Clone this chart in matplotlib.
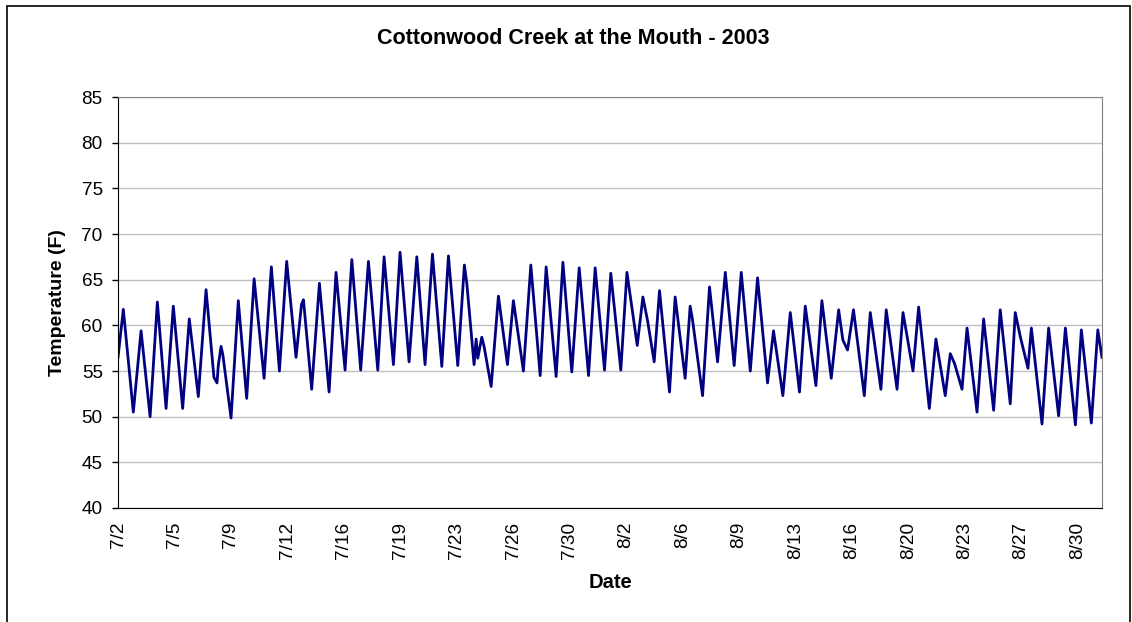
import numpy as np
import pandas as pd
import matplotlib
matplotlib.use('Agg')
import matplotlib.pyplot as plt
from matplotlib.patches import Rectangle

plt.rcParams['font.family'] = ['Liberation Sans', 'DejaVu Sans']

# turning points of the hourly record (days after 7/2 00:00, deg F)
t_day = [0.00, 0.33, 0.95, 1.43, 1.99, 2.44, 2.98, 3.43, 4.01, 4.42, 4.98, 5.46, 5.95, 6.14,
         6.22, 6.39, 6.50, 7.01, 7.46, 7.98, 8.44, 9.06, 9.51, 10.01, 10.46, 11.04, 11.38, 11.50,
         12.01, 12.49, 13.09, 13.52, 14.08, 14.50, 15.05, 15.53, 16.11, 16.50, 17.08, 17.49,
         18.05, 18.53, 19.04, 19.50, 20.08, 20.49, 21.07, 21.48, 21.63, 22.08, 22.21, 22.31,
         22.56, 22.70, 23.14, 23.59, 24.15, 24.52, 25.14, 25.60, 26.18, 26.55, 27.17, 27.59,
         28.14, 28.60, 29.18, 29.59, 30.17, 30.56, 31.18, 31.56, 32.20, 32.55, 32.84, 33.25,
         33.58, 34.20, 34.55, 35.17, 35.48, 35.62, 36.25, 36.68, 37.18, 37.66, 38.21, 38.65,
         39.21, 39.66, 40.28, 40.65, 41.23, 41.69, 42.26, 42.62, 43.28, 43.65, 44.23, 44.69,
         44.95, 45.24, 45.61, 46.28, 46.65, 47.31, 47.64, 48.31, 48.68, 49.30, 49.65, 50.31,
         50.72, 51.30, 51.61, 51.88, 52.34, 52.65, 53.27, 53.68, 54.30, 54.71, 55.33, 55.64,
         55.96, 56.43, 56.64, 57.30, 57.71, 58.33, 58.75, 59.37, 59.74, 60.36, 60.76, 61.02]
temp_f = [56.5, 61.75, 50.5, 59.4, 50.0, 62.55, 50.9, 62.1, 50.9, 60.7, 52.2, 63.9, 54.3, 53.7,
          55.6, 57.7, 56.8, 49.85, 62.7, 52.0, 65.1, 54.2, 66.4, 55.0, 67.0, 56.5, 62.3, 62.8,
          53.0, 64.6, 52.7, 65.8, 55.1, 67.2, 55.1, 67.0, 55.1, 67.5, 55.7, 68.0,
          56.0, 67.5, 55.7, 67.8, 55.5, 67.6, 55.6, 66.6, 64.6, 55.7, 58.5, 56.4,
          58.7, 57.7, 53.3, 63.2, 55.7, 62.7, 55.0, 66.6, 54.5, 66.4, 54.4, 66.9,
          54.9, 66.3, 54.5, 66.3, 55.1, 65.7, 55.1, 65.8, 57.8, 63.1, 60.5, 56.0,
          63.8, 52.7, 63.1, 54.2, 62.1, 60.7, 52.3, 64.2, 56.0, 65.8, 55.6, 65.8,
          55.0, 65.2, 53.7, 59.4, 52.3, 61.4, 52.7, 62.1, 53.4, 62.7, 54.2, 61.7,
          58.4, 57.3, 61.7, 52.3, 61.4, 53.0, 61.7, 53.0, 61.4, 55.0, 62.0, 50.9,
          58.5, 52.3, 56.9, 55.8, 53.0, 59.7, 50.5, 60.7, 50.7, 61.7, 51.4, 61.4,
          58.7, 55.3, 59.7, 49.2, 59.7, 50.1, 59.7, 49.1, 59.5, 49.3, 59.5, 56.5]

start = pd.Timestamp('2003-07-02')
times = start + pd.to_timedelta(t_day, unit='D')
tick_dates = pd.date_range(start, periods=18, freq='84h')
tick_labels = [f'{d.month}/{d.day}' for d in tick_dates]

fig = plt.figure(figsize=(11.32, 6.22), dpi=100)
ax = fig.add_axes([118/1132, 1-508/622, 984/1132, 411/622])

ax.plot(times, temp_f, color='#000080', lw=2.0, solid_joinstyle='round')

ax.set_xlim(start, start + pd.Timedelta(days=61.02))
ax.set_ylim(40, 85)
ax.set_yticks(np.arange(40, 86, 5))
ax.set_xticks(tick_dates)
ax.set_xticklabels(tick_labels, rotation=90, fontsize=13.7)
ax.tick_params(axis='x', length=0, pad=10)
ax.tick_params(axis='y', length=4, width=1, direction='out', pad=7, labelsize=13.7)
ax.grid(axis='y', color='#c0c0c0', lw=1)
ax.set_axisbelow(True)
for s in ['top', 'right']:
    ax.spines[s].set_color('#808080')
for s in ['left', 'bottom']:
    ax.spines[s].set_color('black')

fig.text(573/1132, 1-38/622, 'Cottonwood Creek at the Mouth - 2003', ha='center', va='center',
         fontsize=15.5, fontweight='bold')
fig.text(58/1132, 1-303/622, 'Temperature (F)', ha='center', va='center', rotation=90,
         fontsize=14, fontweight='bold')
fig.text(610/1132, 1-583/622, 'Date', ha='center', va='center', fontsize=14.5, fontweight='bold')

# chart border
fig.patches.append(Rectangle((7/1132, -0.1), 1123/1132, 1.1 - 6/622, transform=fig.transFigure,
                             fill=False, edgecolor='black', lw=1.2, clip_on=False))

fig.savefig('out.png', dpi=100)
